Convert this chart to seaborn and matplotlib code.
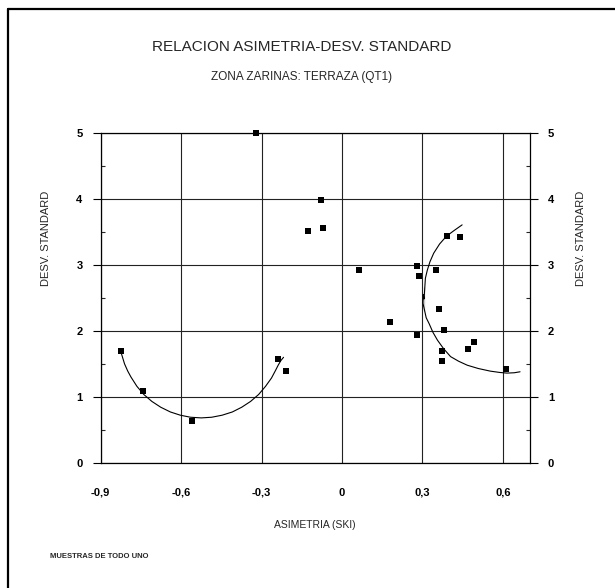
import matplotlib
matplotlib.use("Agg")
import matplotlib.pyplot as plt
import seaborn as sns
import pandas as pd
from matplotlib.ticker import FixedLocator, FuncFormatter, MultipleLocator
from matplotlib.lines import Line2D

# -----------------------------
# data
# -----------------------------
asimetria = [-0.823, -0.742, -0.559, -0.237, -0.209, -0.321, -0.128, -0.080, -0.070,
             0.064, 0.280, 0.289, 0.350, 0.391, 0.441, 0.361, 0.180, 0.280,
             0.380, 0.372, 0.372, 0.470, 0.492, 0.612]
desv_std = [1.69, 1.085, 0.63, 1.57, 1.39, 5.00, 3.51, 3.98, 3.57,
            2.92, 2.98, 2.84, 2.92, 3.44, 3.43, 2.34, 2.14, 1.945,
            2.01, 1.70, 1.54, 1.73, 1.83, 1.42]

# hand drawn arcs grouping the points
arc_left_x = [-0.823, -0.820, -0.811, -0.799, -0.787, -0.765, -0.739, -0.709, -0.676,
              -0.640, -0.603, -0.565, -0.525, -0.486, -0.447, -0.409, -0.374,
              -0.341, -0.311, -0.285, -0.263, -0.248, -0.238, -0.228, -0.218]
arc_left_y = [1.66, 1.62, 1.50, 1.39, 1.30, 1.16, 1.035, 0.93, 0.842,
              0.77, 0.721, 0.69, 0.68, 0.69, 0.721, 0.77, 0.842,
              0.93, 1.035, 1.16, 1.285, 1.40, 1.48, 1.55, 1.60]
arc_right_x = [0.448, 0.420, 0.390, 0.364, 0.342, 0.328, 0.318, 0.311, 0.306,
               0.303, 0.302, 0.306, 0.314, 0.325, 0.339, 0.356, 0.379, 0.405,
               0.435, 0.467, 0.508, 0.553, 0.588, 0.615, 0.642, 0.664]
arc_right_y = [3.61, 3.53, 3.44, 3.32, 3.18, 3.05, 2.92, 2.80, 2.67,
               2.55, 2.42, 2.30, 2.20, 2.11, 1.98, 1.86, 1.73, 1.61,
               1.54, 1.48, 1.43, 1.39, 1.37, 1.36, 1.365, 1.38]

x_ticks = [-0.9, -0.6, -0.3, 0.0, 0.3, 0.6]
y_ticks = [0, 1, 2, 3, 4, 5]

df = pd.DataFrame({"ski": asimetria, "desv": desv_std})

sns.set_style("white")
plt.rcParams["font.family"] = ["Liberation Sans", "DejaVu Sans"]

fig = plt.figure(figsize=(6.15, 5.88), dpi=100)
ax = fig.add_axes([0.1637, 0.2131, 0.6976, 0.5602])

sns.scatterplot(x="ski", y="desv", data=df, ax=ax, marker="s", s=24,
                color="black", edgecolor="black", linewidth=0, zorder=3,
                clip_on=False)
sns.lineplot(x=arc_left_x, y=arc_left_y, ax=ax, sort=False, color="black",
             linewidth=0.8, zorder=2)
sns.lineplot(x=arc_right_x, y=arc_right_y, ax=ax, sort=False, color="black",
             linewidth=0.8, zorder=2)

ax.set_xlim(-0.9, 0.7)
ax.set_ylim(0, 5)
ax.xaxis.set_major_locator(FixedLocator(x_ticks))
ax.yaxis.set_major_locator(FixedLocator(y_ticks))
ax.yaxis.set_minor_locator(MultipleLocator(0.5))
ax.xaxis.set_major_formatter(FuncFormatter(
    lambda v, p: "0" if abs(v) < 1e-9 else f"{v:.1f}".replace(".", ",")))
ax.yaxis.set_major_formatter(FuncFormatter(lambda v, p: f"{v:.0f}"))

ax.grid(True, color="#222222", linewidth=0.8)
for s in ax.spines.values():
    s.set_color("black")
    s.set_linewidth(0.9)

ax.tick_params(axis="x", which="major", direction="out", length=6, width=0.8,
               pad=12, labelsize=8, colors="black")
ax.tick_params(axis="y", which="major", direction="out", length=6, width=0.8,
               pad=7, labelsize=8, left=True, right=True, labelright=True,
               colors="black")
ax.tick_params(axis="y", which="minor", direction="in", length=3, width=0.8,
               left=True, right=True)
for lab in ax.get_xticklabels() + ax.get_yticklabels():
    lab.set_fontweight("bold")

ax.set_xlabel("ASIMETRIA (SKI)", fontsize=7.5)
ax.xaxis.set_label_coords(0.5, -0.175)
ax.set_ylabel("DESV. STANDARD", fontsize=8)
ax.yaxis.set_label_coords(-0.115, 0.68)
ax.text(1.12, 0.68, "DESV. STANDARD", transform=ax.transAxes, rotation=90,
        ha="center", va="center", fontsize=8)

fig.text(0.49, 0.920, "RELACION ASIMETRIA-DESV. STANDARD", ha="center",
         va="center", fontsize=11)
fig.text(0.49, 0.869, "ZONA ZARINAS: TERRAZA (QT1)", ha="center",
         va="center", fontsize=8.5)
fig.text(0.081, 0.053, "MUESTRAS DE TODO UNO", ha="left", va="center",
         fontsize=5.5, fontweight="bold")

# page frame (top and left edges of the scanned sheet)
fig.add_artist(Line2D([0.013, 1.0], [0.985, 0.985], transform=fig.transFigure,
                      color="black", linewidth=1.6))
fig.add_artist(Line2D([0.013, 0.013], [0.0, 0.985], transform=fig.transFigure,
                      color="black", linewidth=1.6))

fig.savefig("out.png", dpi=100)
